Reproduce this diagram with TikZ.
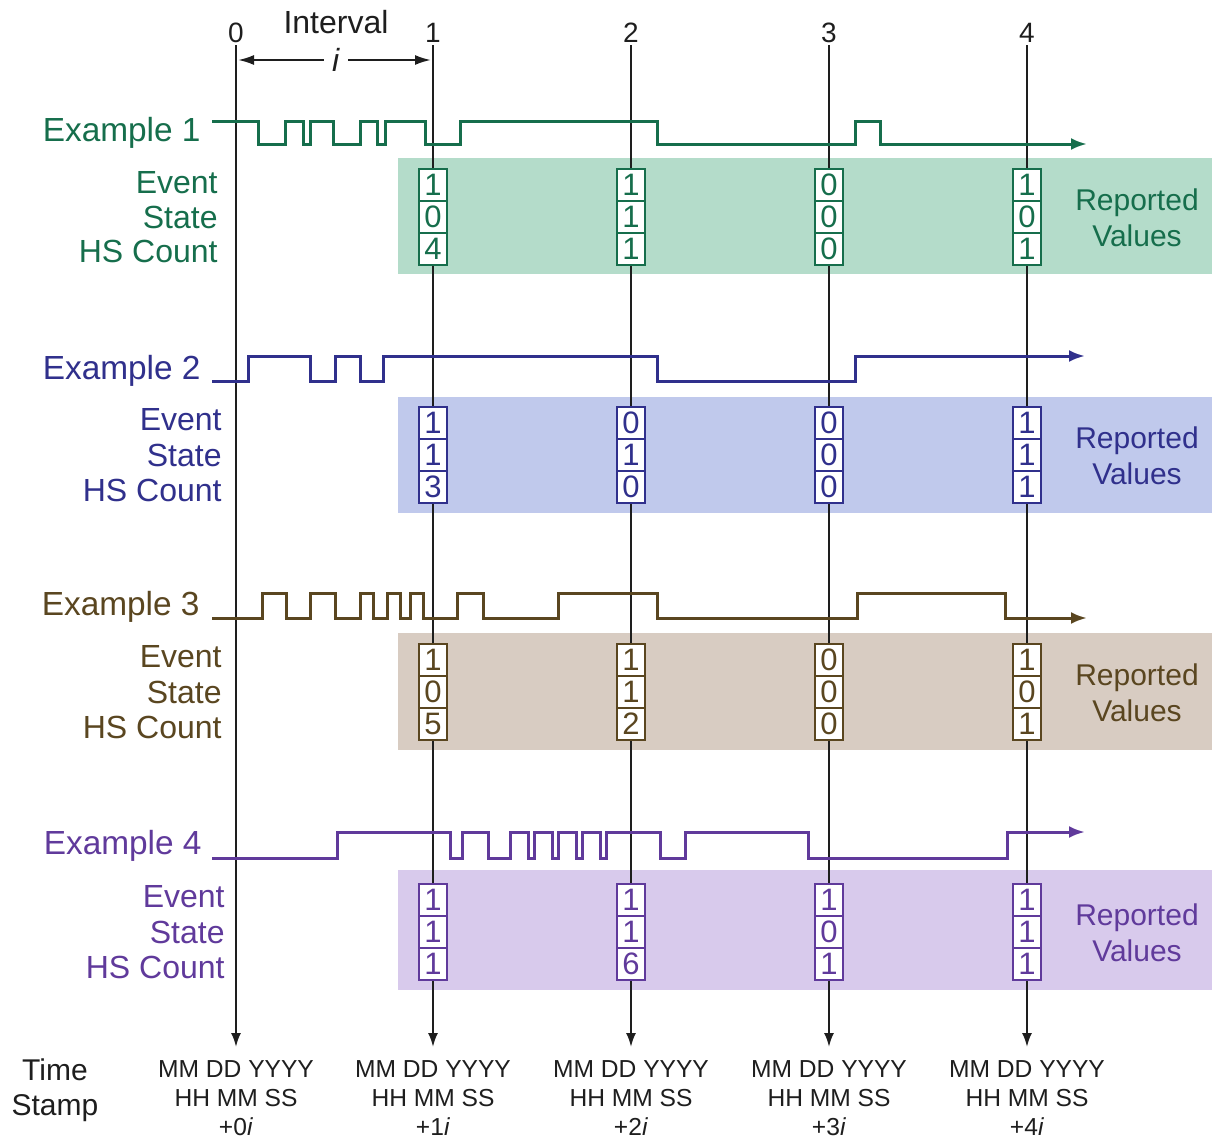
\documentclass[tikz,border=0pt]{standalone}
\usepackage{fontspec}
\setmainfont{Liberation Sans}
\usetikzlibrary{arrows.meta}
\definecolor{gA}{RGB}{22,110,76}
\definecolor{gAp}{RGB}{180,220,202}
\definecolor{bA}{RGB}{48,48,140}
\definecolor{bAp}{RGB}{192,201,236}
\definecolor{nA}{RGB}{90,70,32}
\definecolor{nAp}{RGB}{216,204,194}
\definecolor{pA}{RGB}{96,58,155}
\definecolor{pAp}{RGB}{216,202,236}
\definecolor{ink}{RGB}{30,30,30}
\tikzset{
  tline/.style={draw=ink,line width=1pt,-{Latex[length=7pt,width=5pt]}},
  wave/.style={line width=1.5pt,-{Latex[length=8pt,width=6pt]}},
  exlab/.style={anchor=east,inner sep=0pt,font=\fontsize{16.7}{19}\selectfont},
  rowlab/.style={anchor=east,inner sep=0pt,font=\fontsize{16}{19}\selectfont},
  cell/.style={draw,fill=white,line width=1pt,minimum width=14pt,minimum height=16pt,inner sep=0pt,font=\fontsize{15.5}{17}\selectfont},
  rep/.style={align=center,inner sep=0pt,font=\fontsize{15}{18}\selectfont},
  stamp/.style={align=center,inner sep=0pt,text=ink,font=\fontsize{12.3}{14.5}\selectfont},
  toplab/.style={inner sep=0pt,text=ink,font=\fontsize{14}{16}\selectfont},
}
\begin{document}
\begin{tikzpicture}[x=0.5pt,y=-0.5pt]
\useasboundingbox (0,0) rectangle (1212,1141);
% panels
\fill[gAp] (398,158) rectangle (1212,274);
\fill[bAp] (398,397) rectangle (1212,513);
\fill[nAp] (398,633) rectangle (1212,750);
\fill[pAp] (398,870) rectangle (1212,990);
% time lines
\foreach \k/\x in {0/236,1/433,2/631,3/829,4/1027}{
  \coordinate (top\k) at (\x,45);
  \coordinate (bot\k) at (\x,1047);
  \draw[tline] (top\k) -- (bot\k);
  \node[toplab] (num\k) at (\x,33) {\k};
  \node[stamp] (ts\k) at (\x,1098) {MM DD YYYY\\HH MM SS\\+\k\textit{i}};
}
% interval
\node[toplab,font=\fontsize{16}{19}\selectfont] (ival) at (336,22) {Interval};
\node[toplab,font=\fontsize{16}{19}\selectfont,inner sep=4pt] (ii) at (336,60) {\textit{i}};
\draw[draw=ink,line width=1pt,-{Latex[length=8pt,width=5pt]}] (ii.west) -- ([xshift=1pt]top0 |- ii);
\draw[draw=ink,line width=1pt,-{Latex[length=8pt,width=5pt]}] (ii.east) -- ([xshift=-1pt]top1 |- ii);
% labels
\node[exlab,text=gA] (ex1) at (201,133) {Example 1};
\node[exlab,text=bA] (ex2) at (201,371) {Example 2};
\node[exlab,text=nA] (ex3) at (200,607) {Example 3};
\node[exlab,text=pA] (ex4) at (202,846) {Example 4};
\node[rowlab,text=gA] (ev1) at (218,183) {Event};
\node[rowlab,text=gA] (st1) at (218,217) {State};
\node[rowlab,text=gA] (hs1) at (218,251) {HS Count};
\node[rowlab,text=bA] (ev2) at (222,420) {Event};
\node[rowlab,text=bA] (st2) at (222,455) {State};
\node[rowlab,text=bA] (hs2) at (222,490) {HS Count};
\node[rowlab,text=nA] (ev3) at (222,657) {Event};
\node[rowlab,text=nA] (st3) at (222,692) {State};
\node[rowlab,text=nA] (hs3) at (222,727) {HS Count};
\node[rowlab,text=pA] (ev4) at (225,897) {Event};
\node[rowlab,text=pA] (st4) at (225,932) {State};
\node[rowlab,text=pA] (hs4) at (225,967) {HS Count};
\node[rep,text=gA] (rv1) at (1137,218) {Reported\\Values};
\node[rep,text=bA] (rv2) at (1137,456) {Reported\\Values};
\node[rep,text=nA] (rv3) at (1137,693) {Reported\\Values};
\node[rep,text=pA] (rv4) at (1137,933) {Reported\\Values};
\node[align=center,inner sep=0pt,text=ink,font=\fontsize{15}{17.5}\selectfont] (tstamp) at (55,1090) {Time\\Stamp};
% waveforms
\draw[wave,gA] (212,121) -| (258,144) -| (285,121) -| (303,144) -| (310,121) -| (333,144) -| (360,121) -| (377,144) -| (385,121) -| (425,144) -| (460,121) -| (657,144) -| (855,121) -| (880,144) -- (1087,144);
\draw[wave,bA] (212,381) -| (248,356) -| (310,381) -| (335,356) -| (360,381) -| (383,356) -| (657,381) -| (855,356) -- (1085,356);
\draw[wave,nA] (212,618) -| (262,593) -| (286,618) -| (310,593) -| (335,618) -| (360,593) -| (373,618) -| (387,593) -| (400,618) -| (410,593) -| (423,618) -| (457,593) -| (483,618) -| (558,593) -| (657,618) -| (857,593) -| (1005,618) -- (1087,618);
\draw[wave,pA] (212,858) -| (337,832) -| (450,858) -| (462,832) -| (488,858) -| (510,832) -| (528,858) -| (534,832) -| (552,858) -| (558,832) -| (576,858) -| (582,832) -| (600,858) -| (606,832) -| (660,858) -| (685,832) -| (808,858) -| (1007,832) -- (1085,832);
% value cells
\foreach \k/\x/\a/\b/\c in {1/433/1/0/4,2/631/1/1/1,3/829/0/0/0,4/1027/1/0/1}{
  \node[cell,draw=gA,text=gA] (eA\k) at (\x,185) {\a};
  \node[cell,draw=gA,text=gA] (sA\k) at (\x,217) {\b};
  \node[cell,draw=gA,text=gA] (hA\k) at (\x,249) {\c};
}
\foreach \k/\x/\a/\b/\c in {1/433/1/1/3,2/631/0/1/0,3/829/0/0/0,4/1027/1/1/1}{
  \node[cell,draw=bA,text=bA] (eB\k) at (\x,423) {\a};
  \node[cell,draw=bA,text=bA] (sB\k) at (\x,455) {\b};
  \node[cell,draw=bA,text=bA] (hB\k) at (\x,487) {\c};
}
\foreach \k/\x/\a/\b/\c in {1/433/1/0/5,2/631/1/1/2,3/829/0/0/0,4/1027/1/0/1}{
  \node[cell,draw=nA,text=nA] (eC\k) at (\x,660) {\a};
  \node[cell,draw=nA,text=nA] (sC\k) at (\x,692) {\b};
  \node[cell,draw=nA,text=nA] (hC\k) at (\x,724) {\c};
}
\foreach \k/\x/\a/\b/\c in {1/433/1/1/1,2/631/1/1/6,3/829/1/0/1,4/1027/1/1/1}{
  \node[cell,draw=pA,text=pA] (eD\k) at (\x,900) {\a};
  \node[cell,draw=pA,text=pA] (sD\k) at (\x,932) {\b};
  \node[cell,draw=pA,text=pA] (hD\k) at (\x,964) {\c};
}
\end{tikzpicture}
\end{document}
